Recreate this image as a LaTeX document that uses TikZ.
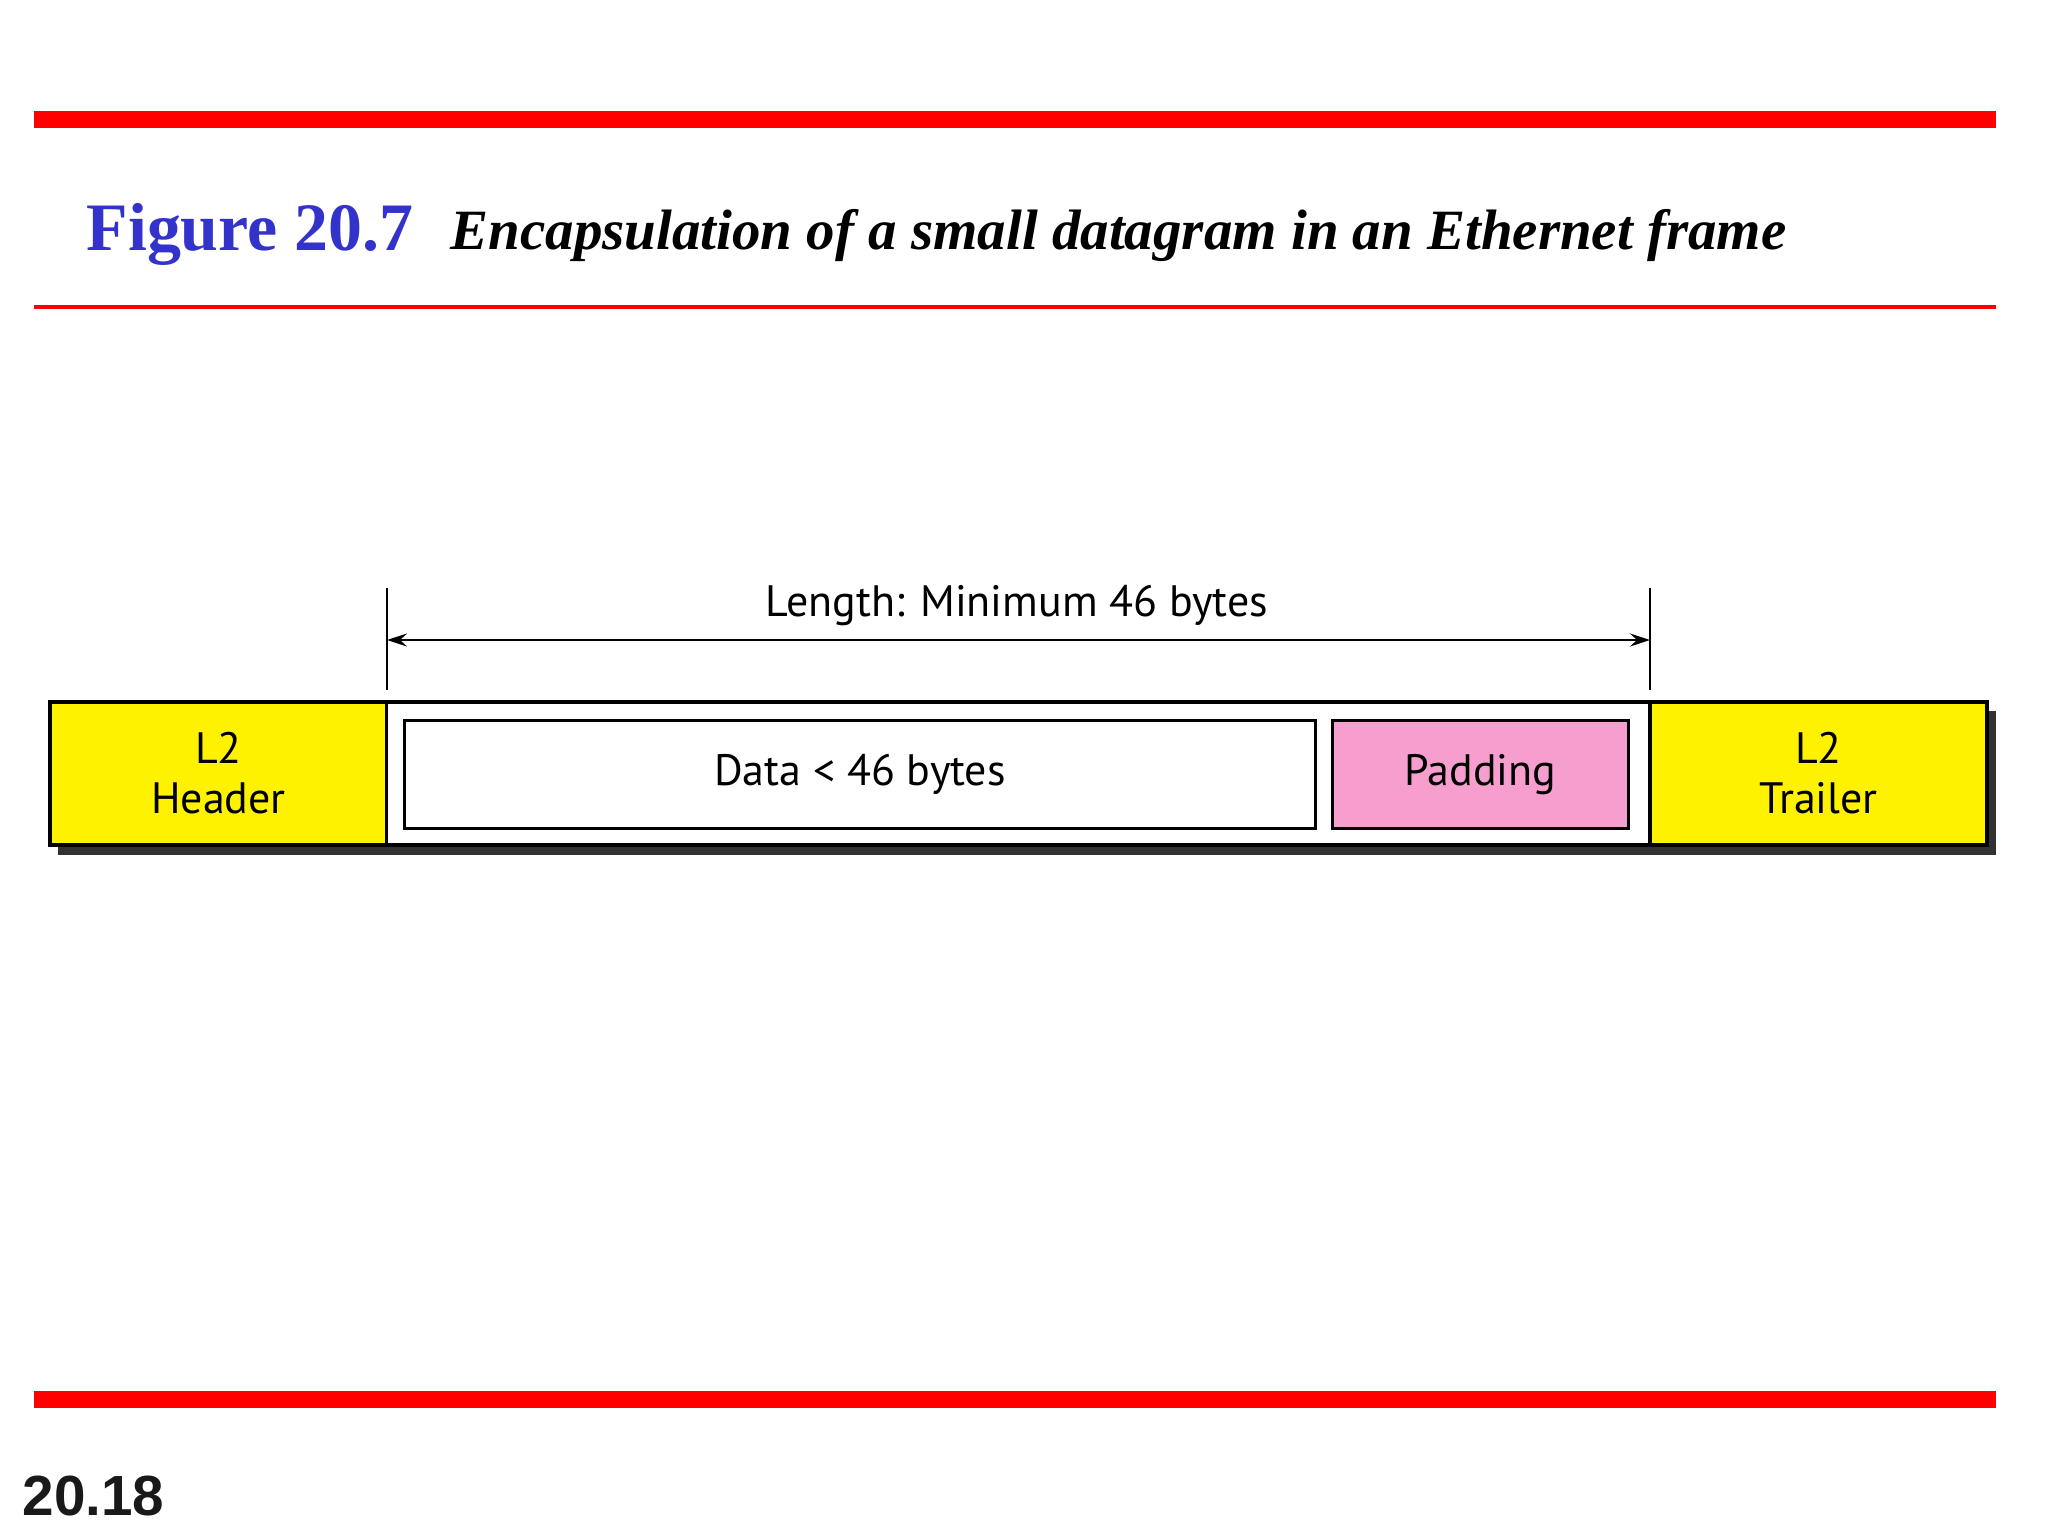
\documentclass[tikz,border=0pt]{standalone}
\usepackage{fontspec}
\setmainfont{Liberation Serif}
\setsansfont{PT Sans}
\newfontfamily\pagefont{Liberation Sans}
\usetikzlibrary{arrows.meta,positioning}
\definecolor{figblue}{RGB}{51,51,204}
\definecolor{padpink}{RGB}{246,158,206}
\definecolor{shadowgray}{RGB}{50,50,50}
\tikzset{
  redbar/.style={fill=red, draw=none},
  framebox/.style={draw, line width=1pt, minimum height=1.43cm, inner sep=0pt,
    align=center, font=\sffamily\fontsize{12.5}{14.2}\selectfont},
  l2box/.style={framebox, fill=yellow},
  innerbox/.style={draw, line width=0.85pt, minimum height=1.07cm, inner sep=0pt,
    font=\sffamily\fontsize{12.5}{14.2}\selectfont},
  dimline/.style={line width=0.6pt},
  dimtip/.tip={Stealth[length=2mm,width=1.3mm,inset=0.7mm]}
}
\begin{document}
\begin{tikzpicture}[x=0.01cm,y=-0.01cm]
\useasboundingbox (0,0) rectangle (2048,1536);
% slide rules
\fill[redbar] (34,111) rectangle (1996,128);
\fill[redbar] (34,305) rectangle (1996,309);
\fill[redbar] (34,1391) rectangle (1996,1408);
% title
\node[anchor=base west, inner sep=0pt, text=figblue,
  font=\bfseries\fontsize{19.3}{23}\selectfont] (fignum) at (86,250) {Figure 20.7};
\node[anchor=base west, inner sep=0pt,
  font=\bfseries\itshape\fontsize{16.2}{19}\selectfont] (figcap) at (450,249)
  {Encapsulation of a small datagram in an Ethernet frame};
\node[anchor=base west, inner sep=0pt, text=black!90,
  font=\pagefont\bfseries\fontsize{16.1}{20}\selectfont] (pagenum) at (22,1515) {20.18};
% frame
\fill[shadowgray] (58,711) rectangle (1996,855);
\node[l2box, minimum width=3.37cm] (header) at (218.5,773.5) {L2\\Header};
\node[framebox, fill=white, minimum width=12.63cm] (payload) at (1018.5,773.5) {};
\node[l2box, minimum width=3.37cm] (trailer) at (1818.5,773.5) {L2\\Trailer};
\node[innerbox, fill=white, minimum width=9.10cm] (data) at (860,774.5) {Data < 46 bytes};
\node[innerbox, fill=padpink, minimum width=2.95cm] (padding) at (1480.5,774.5) {Padding};
% length
\coordinate (ltop) at (387,588);
\coordinate (lbot) at (387,690);
\coordinate (rtop) at (1650,588);
\coordinate (rbot) at (1650,690);
\coordinate (larr) at (387,640);
\coordinate (rarr) at (1650,640);
\draw[dimline] (ltop) -- (lbot);
\draw[dimline] (rtop) -- (rbot);
\draw[dimline, dimtip-dimtip] (larr) -- (rarr);
\node[anchor=base, inner sep=0pt, font=\sffamily\fontsize{12.5}{14.2}\selectfont]
  (lenlabel) at (1017,616) {Length: Minimum 46 bytes};
\end{tikzpicture}
\end{document}
